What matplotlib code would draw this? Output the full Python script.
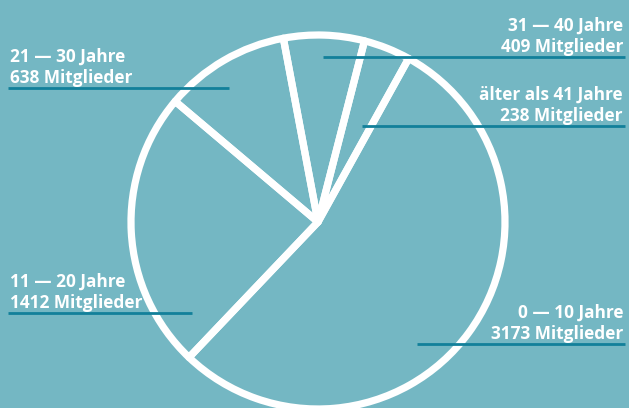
import matplotlib.pyplot as plt

# ---------------------------------------------------------------------------
# Data
# ---------------------------------------------------------------------------
AGE_GROUPS = ["0 — 10 Jahre", "11 — 20 Jahre", "21 — 30 Jahre",
              "31 — 40 Jahre", "älter als 41 Jahre"]
MEMBERS = [3173, 1412, 638, 409, 238]

BG = "#74b7c3"
LINE = "#12809a"

# label layout in pixels (text x, underline y, underline x0, x1, anchor)
W, H = 629, 408
LABEL_POS = [
    (623, 344, 417, 625, "right"),
    (10, 313, 8, 192, "left"),
    (10, 88, 8, 229, "left"),
    (623, 57, 323, 625, "right"),
    (623, 126, 362, 625, "right"),
]

fig = plt.figure(figsize=(W / 100, H / 100), dpi=100)
fig.patch.set_facecolor(BG)
ax = fig.add_axes([0, 0, 1, 1])
ax.set_facecolor(BG)

ax.pie(MEMBERS, center=(318, H - 222), radius=187, startangle=61,
       counterclock=False,
       wedgeprops=dict(facecolor="none", edgecolor="white", linewidth=5.2,
                       joinstyle="round"))

style = dict(fontsize=12.4, fontweight="bold", color="white",
             family="Open Sans", va="baseline", zorder=6)
for group, n, (tx, ly, x0, x1, ha) in zip(AGE_GROUPS, MEMBERS, LABEL_POS):
    yb = H - ly
    ax.plot([x0, x1], [yb, yb], color=LINE, linewidth=2, zorder=5,
            solid_capstyle="butt")
    ax.text(tx, yb + 5, f"{n} Mitglieder", ha=ha, **style)
    ax.text(tx, yb + 26, group, ha=ha, **style)

ax.set_xlim(0, W)
ax.set_ylim(0, H)
ax.set_aspect("auto")
ax.axis("off")

fig.savefig("out.png", dpi=100, facecolor=BG)
